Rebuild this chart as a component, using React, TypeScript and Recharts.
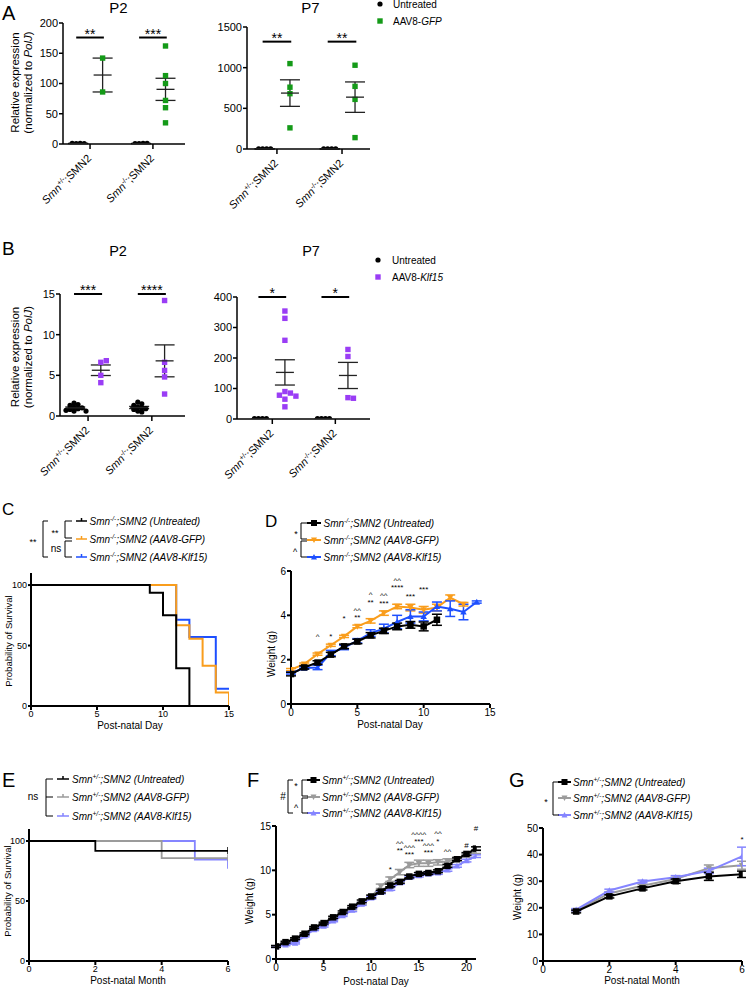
import React from 'react';
import {
  ScatterChart, Scatter, LineChart, Line, XAxis, YAxis, ErrorBar, ReferenceLine, LabelList,
} from 'recharts';

const FONT = '"Liberation Sans", Arial, Helvetica, sans-serif';
const GREEN = '#149a18';
const PURPLE = '#9a3df5';
const ORANGE = '#f99d1c';
const BLUE = '#1d4fff';
const GREY = '#9b9b9b';
const LILAC = '#8585ff';

// ---- A: GFP expression (relative to PolJ) ----
const genotypes = ['+/-', '-/-'];
const aP2Untreated = [[0.6, 0.9, 1.2, 0.8], [0.7, 1.1, 0.5, 0.9]];
const aP2Gfp = [[142, 86], [162, 113, 100, 72, 60, 35]];
const aP7Untreated = [[2, 3, 1, 2], [1, 2, 3, 2]];
const aP7Gfp = [[1050, 760, 680, 260], [1030, 770, 610, 140]];

// ---- B: Klf15 expression ----
const bP2Untreated = [[1.6, 1.4, 1.3, 1.1, 1.0, 0.9, 0.8, 0.7, 0.6, 0.6], [1.7, 1.5, 1.3, 1.1, 1.0, 0.9, 0.8, 0.6, 0.5]];
const bP2Klf = [[6.6, 6.8, 5.0, 4.1], [14.2, 6.6, 5.6, 4.8, 2.7]];
const bP7Untreated = [[1, 1, 1, 1], [1, 1, 1, 1]];
const bP7Klf = [[354, 330, 258, 90, 85, 78, 75, 65, 40], [228, 205, 70, 68]];

// ---- C: survival Smn-/- ----
const cDaysUntreated = [0, 9, 10, 11, 12];
const cSurvUntreated = [100, 93.75, 75, 31.25, 0];
const cDaysGfp = [0, 11, 12, 13, 14, 15];
const cSurvGfp = [100, 66.7, 55.6, 33.3, 11.1, 0];
const cDaysKlf = [0, 11, 12, 14, 15];
const cSurvKlf = [100, 71.4, 57.1, 14.3, 14.3];

// ---- D: weight Smn-/- ----
const dDays = [0, 1, 2, 3, 4, 5, 6, 7, 8, 9, 10, 11, 12, 13, 14];
const dUntreated = [1.35, 1.65, 1.87, 2.23, 2.6, 2.82, 3.1, 3.3, 3.5, 3.57, 3.5, 3.8];
const dUntreatedErr = [0.08, 0.07, 0.08, 0.1, 0.1, 0.1, 0.12, 0.12, 0.15, 0.15, 0.2, 0.25];
const dGfp = [1.55, 1.8, 2.25, 2.65, 3.05, 3.5, 3.75, 4.1, 4.4, 4.35, 4.25, 4.35, 4.8, 4.5];
const dGfpErr = [0.05, 0.05, 0.05, 0.05, 0.05, 0.06, 0.1, 0.1, 0.1, 0.15, 0.15, 0.15, 0.12, 0.08];
const dKlf = [1.4, 1.62, 1.65, 2.3, 2.55, 2.85, 3.2, 3.4, 3.7, 3.95, 3.95, 4.4, 4.3, 4.15, 4.6];
const dKlfErr = [0.05, 0.05, 0.1, 0.12, 0.1, 0.1, 0.15, 0.2, 0.3, 0.3, 0.2, 0.2, 0.35, 0.35, 0.05];
const dAnn = ['', '', '^', '*', '*', '^^\n**', '^\n**', '^^\n***', '^^\n****', '***', '***'];

// ---- E: survival Smn+/- ----
const eMonthsUntreated = [0, 2, 6];
const eSurvUntreated = [100, 91.7, 91.7];
const eMonthsGfp = [0, 4, 6];
const eSurvGfp = [100, 85.7, 85.7];
const eMonthsKlf = [0, 5, 6];
const eSurvKlf = [100, 84.6, 76.9];

// ---- F: weight Smn+/- (days) ----
const fDays = [0, 1, 2, 3, 4, 5, 6, 7, 8, 9, 10, 11, 12, 13, 14, 15, 16, 17, 18, 19, 20, 21];
const fUntreated = [1.42, 1.9, 2.3, 2.85, 3.56, 4.05, 4.7, 5.3, 5.9, 6.5, 7.05, 7.6, 8.3, 8.7, 9.3, 9.6, 9.7, 9.9, 10.5, 11.25, 11.85, 12.45];
const fUntreatedErr = [0.1, 0.1, 0.1, 0.1, 0.1, 0.1, 0.12, 0.12, 0.12, 0.15, 0.15, 0.15, 0.15, 0.15, 0.15, 0.15, 0.15, 0.15, 0.15, 0.15, 0.15, 0.2];
const fGfp = [1.4, 1.75, 2.2, 2.8, 3.4, 3.9, 4.5, 5.1, 5.7, 6.3, 7.0, 8.2, 9.0, 9.8, 10.6, 10.8, 10.8, 10.9, 11.0, 11.3, 11.7, 12.1];
const fGfpErr = [0.1, 0.1, 0.1, 0.1, 0.1, 0.1, 0.1, 0.1, 0.15, 0.15, 0.2, 0.25, 0.25, 0.3, 0.3, 0.35, 0.35, 0.3, 0.3, 0.2, 0.2, 0.2];
const fKlf = [1.4, 1.6, 1.8, 2.6, 3.3, 3.7, 4.3, 4.9, 5.5, 6.2, 6.9, 7.5, 7.9, 8.6, 9.2, 9.4, 9.6, 9.7, 10.05, 10.5, 11.1, 11.6];
const fKlfErr = [0.1, 0.1, 0.1, 0.1, 0.1, 0.1, 0.1, 0.1, 0.15, 0.15, 0.15, 0.15, 0.15, 0.15, 0.15, 0.15, 0.15, 0.15, 0.15, 0.15, 0.15, 0.15];
const fAnn = ['', '', '', '', '', '', '', '', '', '', '', '', '*', '^^\n**', '^^^\n***', '^^^^\n***', '^^^\n***', '^^\n*', '^^', '', '#', '#'];

// ---- G: weight Smn+/- (months) ----
const gMonths = [1, 2, 3, 4, 5, 6];
const gUntreated = [18.6, 24.3, 27.3, 30.0, 31.8, 32.6];
const gUntreatedErr = [0.5, 0.6, 0.6, 0.8, 1.5, 1.2];
const gGfp = [19.0, 25.4, 28.3, 30.8, 34.9, 36.0];
const gGfpErr = [0.4, 0.5, 0.5, 0.6, 1.2, 1.5];
const gKlf = [19.3, 26.5, 29.9, 31.5, 33.9, 39.3];
const gKlfErr = [0.4, 0.5, 0.5, 0.6, 1.0, 3.5];
const gAnn = ['', '', '', '', '', '*'];

const legendTails = ['(Untreated)', '(AAV8-GFP)', '(AAV8-Klf15)'];

type Rect = { l: number; t: number; r: number; b: number };
type Pad = { L: number; T: number; R: number; B: number };

function frame(rect: Rect, pad: Pad) {
  return {
    style: { position: 'absolute' as const, left: rect.l - pad.L, top: rect.t - pad.T },
    width: rect.r - rect.l + pad.L + pad.R,
    height: rect.b - rect.t + pad.T + pad.B,
    margin: { top: pad.T, right: pad.R, bottom: 0, left: 0 },
  };
}

function stats(v: number[]) {
  const m = v.reduce((s, x) => s + x, 0) / v.length;
  const sd = Math.sqrt(v.reduce((s, x) => s + (x - m) ** 2, 0) / (v.length - 1));
  return { y: m, err: sd / Math.sqrt(v.length) };
}

// simple beeswarm: push overlapping points sideways (gap in px)
function swarm(values: number[], base: number, kx: number, ky: number, gap: number) {
  const placed: { dx: number; py: number }[] = [];
  return values.map((v) => {
    const py = v * ky;
    for (let n = 0; n < 40; n++) {
      const dx = n === 0 ? 0 : (n % 2 ? 1 : -1) * Math.ceil(n / 2) * gap;
      if (!placed.some((p) => Math.abs(p.dx - dx) < gap * 0.99 && Math.abs(p.py - py) < gap)) {
        placed.push({ dx, py });
        return { x: base + dx / kx, y: v };
      }
    }
    return { x: base, y: v };
  });
}

const Dot = (p: any) => <circle cx={p.cx} cy={p.cy} r={2.6} fill="#000" />;
const squareOf = (color: string) => (p: any) => <rect x={p.cx - 2.7} y={p.cy - 2.7} width={5.4} height={5.4} fill={color} />;
const MeanLine = (p: any) => <line x1={p.cx - 9} x2={p.cx + 9} y1={p.cy} y2={p.cy} stroke="#222" strokeWidth={1.3} />;

function GenoTick(props: any) {
  const { x, y, payload } = props;
  const g = genotypes[Math.round(payload.value) - 1];
  return (
    <g transform={`translate(${x + 2},${y + 8}) rotate(-45)`}>
      <text textAnchor="end" fontSize={11} fill="#000">
        <tspan fontStyle="italic">Smn</tspan>
        <tspan fontSize={7} dy={-4}>{g}</tspan>
        <tspan dy={4}>;SMN2</tspan>
      </text>
    </g>
  );
}

function ExpressionPanel({ rect, xDomain, yMax, yTicks, untreated, treated, color, sigY, sigs }: {
  rect: Rect; xDomain: [number, number]; yMax: number; yTicks: number[];
  untreated: number[][]; treated: number[][]; color: string; sigY: number; sigs: string[];
}) {
  const pad = { L: 34, T: 22, R: 6, B: 66 };
  const f = frame(rect, pad);
  const kx = (rect.r - rect.l) / (xDomain[1] - xDomain[0]);
  const ky = (rect.b - rect.t) / yMax;
  const ctrl = untreated.map((v, g) => swarm(v, g + 1 - 0.22, kx, ky, 4));
  const trt = treated.flatMap((v, g) => swarm(v, g + 1 + 0.2, kx, ky, 5.5));
  const means = [
    ...untreated.map((v, g) => ({ x: ctrl[g].reduce((s, p) => s + p.x, 0) / ctrl[g].length, ...stats(v) })),
    ...treated.map((v, g) => ({ x: g + 1 + 0.2, ...stats(v) })),
  ];
  return (
    <div style={f.style}>
      <ScatterChart width={f.width} height={f.height} margin={f.margin}>
        <XAxis type="number" dataKey="x" domain={xDomain} ticks={[1, 2]} interval={0} allowDataOverflow
          height={pad.B} tick={<GenoTick />} tickSize={5}
          axisLine={{ stroke: '#000', strokeWidth: 1.5 }} tickLine={{ stroke: '#000', strokeWidth: 1.5 }} />
        <YAxis type="number" dataKey="y" domain={[0, yMax]} ticks={yTicks} interval={0} allowDataOverflow
          width={pad.L} tick={{ fontSize: 11, fill: '#000' }} tickSize={4} tickMargin={1}
          axisLine={{ stroke: '#000', strokeWidth: 1.5 }} tickLine={{ stroke: '#000', strokeWidth: 1.5 }} />
        {sigs.map((s, g) => (
          <ReferenceLine key={g} segment={[{ x: g + 1 - 0.22, y: sigY }, { x: g + 1 + 0.22, y: sigY }]}
            stroke="#000" strokeWidth={2} ifOverflow="visible"
            label={{ value: s, position: 'top', offset: -1, fontSize: 14, fill: '#000' }} />
        ))}
        <Scatter data={ctrl.flat()} shape={Dot} isAnimationActive={false} />
        <Scatter data={trt} shape={squareOf(color)} isAnimationActive={false} />
        <Scatter data={means} shape={MeanLine} isAnimationActive={false}>
          <ErrorBar dataKey="err" direction="y" width={10} stroke="#222" strokeWidth={1.3} />
        </Scatter>
      </ScatterChart>
    </div>
  );
}

function SurvivalPanel({ rect, xMax, xTicks, series, strokeW }: {
  rect: Rect; xMax: number; xTicks: number[]; strokeW: number;
  series: { xs: number[]; ys: number[]; color: string; censor?: boolean }[];
}) {
  const pad = { L: 28, T: 6, R: 8, B: 20 };
  const f = frame(rect, pad);
  return (
    <div style={f.style}>
      <LineChart width={f.width} height={f.height} margin={f.margin}>
        <XAxis type="number" dataKey="x" domain={[0, xMax]} ticks={xTicks} interval={0} allowDataOverflow
          height={pad.B} tick={{ fontSize: 9, fill: '#000' }} tickSize={4} tickMargin={1}
          axisLine={{ stroke: '#000', strokeWidth: 2 }} tickLine={{ stroke: '#000', strokeWidth: 2 }} />
        <YAxis type="number" domain={[0, 110]} ticks={[0, 50, 100]} interval={0} allowDataOverflow
          width={pad.L} tick={{ fontSize: 9, fill: '#000' }} tickSize={3} tickMargin={1}
          axisLine={{ stroke: '#000', strokeWidth: 2 }} tickLine={{ stroke: '#000', strokeWidth: 2 }} />
        {series.map((s, k) => {
          const last = s.xs.length - 1;
          return (
            <Line key={k} data={s.xs.map((x, i) => ({ x, y: s.ys[i] }))} dataKey="y" type="stepAfter"
              stroke={s.color} strokeWidth={strokeW} isAnimationActive={false} activeDot={false}
              dot={s.censor ? (p: any) => (p.index === last
                ? <line key={p.index} x1={p.cx} x2={p.cx} y1={p.cy - 4} y2={p.cy + 3} stroke={s.color} strokeWidth={1.5} />
                : <g key={p.index} />) : false} />
          );
        })}
      </LineChart>
    </div>
  );
}

function marker(kind: string, color: string, cx: number, cy: number, size: number, key?: any) {
  const s = size / 2;
  if (kind === 'square') return <rect key={key} x={cx - s} y={cy - s} width={size} height={size} fill={color} />;
  if (kind === 'down') return <path key={key} d={`M${cx - s},${cy - s * 0.8}L${cx + s},${cy - s * 0.8}L${cx},${cy + s}Z`} fill={color} />;
  return <path key={key} d={`M${cx - s},${cy + s * 0.8}L${cx + s},${cy + s * 0.8}L${cx},${cy - s}Z`} fill={color} />;
}

// significance marks stacked above a time point, one text element per point
function Ann(props: any) {
  const vb = props.viewBox || {};
  const x = props.x ?? vb.x;
  const y = props.y ?? vb.y;
  if (!props.value || x == null || y == null) return null;
  const lines = String(props.value).split('\n');
  const step = 7.5;
  const y0 = y - 5 - (props.lift || 0) - (lines.length - 1) * step;
  return (
    <text x={x} y={y0} textAnchor="middle" fontSize={8} fill="#000">
      {lines.map((s, i) => <tspan key={i} x={x} dy={i === 0 ? 0 : step}>{s}</tspan>)}
    </text>
  );
}

function WeightPanel({ rect, xMax, xTicks, yMax, yTicks, xs, series, ann, hiParity = 0, lift = 0 }: {
  rect: Rect; xMax: number; xTicks: number[]; yMax: number; yTicks: number[]; xs: number[]; ann: string[];
  series: { ys: number[]; errs: number[]; color: string; marker: string }[]; hiParity?: number; lift?: number;
}) {
  const pad = { L: 28, T: 8, R: 8, B: 20 };
  const f = frame(rect, pad);
  const annData = xs.map((x, i) => ({
    x,
    y: Math.max(...series.filter((s) => s.ys[i] != null).map((s) => s.ys[i] + s.errs[i])),
    ann: ann[i] || '',
  }));
  return (
    <div style={f.style}>
      <LineChart width={f.width} height={f.height} margin={f.margin}>
        <XAxis type="number" dataKey="x" domain={[0, xMax]} ticks={xTicks} interval={0} allowDataOverflow
          height={pad.B} tick={{ fontSize: 10, fill: '#000' }} tickSize={4} tickMargin={1}
          axisLine={{ stroke: '#000', strokeWidth: 2 }} tickLine={{ stroke: '#000', strokeWidth: 2 }} />
        <YAxis type="number" domain={[0, yMax]} ticks={yTicks} interval={0} allowDataOverflow
          width={pad.L} tick={{ fontSize: 10, fill: '#000' }} tickSize={4} tickMargin={1}
          axisLine={{ stroke: '#000', strokeWidth: 2 }} tickLine={{ stroke: '#000', strokeWidth: 2 }} />
        {series.map((s, k) => (
          <Line key={k} data={s.ys.map((y, i) => ({ x: xs[i], y, e: s.errs[i] }))} dataKey="y"
            stroke={s.color} strokeWidth={2} isAnimationActive={false} activeDot={false}
            dot={(p: any) => (p.cx == null ? <g key={p.index} /> : marker(s.marker, s.color, p.cx, p.cy, 6.5, p.index))}>
            <ErrorBar dataKey="e" direction="y" width={5} stroke={s.color} strokeWidth={1.5} />
          </Line>
        ))}
        <Line data={annData} dataKey="y" stroke="none" dot={false} activeDot={false} isAnimationActive={false} legendType="none">
          <LabelList dataKey="ann"
            content={(p: any) => <Ann {...p} lift={p.index != null && p.index % 2 === hiParity ? lift : 0} />} />
        </Line>
      </LineChart>
    </div>
  );
}

// ---- overlay: panel letters, titles, legends, brackets, axis titles ----
function GenoText({ x, y, geno, tail }: { x: number; y: number; geno: string; tail: string }) {
  return (
    <text x={x} y={y} fontSize={10} fontStyle="italic" fill="#000">
      Smn<tspan fontSize={6.5} dy={-3.5}>{geno}</tspan><tspan dy={3.5}>;SMN2 {tail}</tspan>
    </text>
  );
}

function Bracket({ x, y1, y2, w, mid }: { x: number; y1: number; y2: number; w: number; mid?: number }) {
  return (
    <g stroke="#000" strokeWidth={1} fill="none">
      <path d={`M${x + w},${y1}H${x}V${y2}H${x + w}`} />
      {mid != null && <path d={`M${x},${mid}H${x + w}`} />}
    </g>
  );
}

function VText({ x, y, size, children }: { x: number; y: number; size: number; children: React.ReactNode }) {
  return <text transform={`translate(${x},${y}) rotate(-90)`} textAnchor="middle" fontSize={size} fill="#000">{children}</text>;
}

function LegendRows({ rows, x1, x2, textX, geno, colors, kinds }: {
  rows: number[]; x1: number; x2: number; textX: number; geno: string; colors: string[]; kinds?: string[];
}) {
  const mid = (x1 + x2) / 2;
  return (
    <g>
      {rows.map((y, i) => (
        <g key={i}>
          <line x1={x1} x2={x2} y1={y} y2={y} stroke={colors[i]} strokeWidth={kinds ? 2 : 1.5} />
          {kinds ? marker(kinds[i], colors[i], mid, y, 6) : <line x1={mid} x2={mid} y1={y - 3} y2={y} stroke={colors[i]} strokeWidth={1.5} />}
          <GenoText x={textX} y={y + 3.5} geno={geno} tail={legendTails[i]} />
        </g>
      ))}
    </g>
  );
}

function Overlay() {
  const wk = ['square', 'down', 'up'];
  return (
    <svg width={746} height={989} style={{ position: 'absolute', left: 0, top: 0, pointerEvents: 'none' }}>
      <g fill="#000">
        <text x={2} y={19.5} fontSize={20}>A</text>
        <text x={2} y={255} fontSize={19}>B</text>
        <text x={2} y={515} fontSize={17}>C</text>
        <text x={265} y={527} fontSize={17}>D</text>
        <text x={2} y={787} fontSize={20}>E</text>
        <text x={247} y={787} fontSize={20}>F</text>
        <text x={509} y={787} fontSize={20}>G</text>

        <text x={118.5} y={13.3} fontSize={15} textAnchor="middle">P2</text>
        <text x={310.5} y={13.3} fontSize={15} textAnchor="middle">P7</text>
        <text x={118} y={255.5} fontSize={14.5} textAnchor="middle">P2</text>
        <text x={311} y={255.5} fontSize={14.5} textAnchor="middle">P7</text>

        {/* A / B legends */}
        <circle cx={380} cy={4} r={2.6} />
        <text x={393} y={7.7} fontSize={10}>Untreated</text>
        <rect x={377.3} y={18.3} width={5.4} height={5.4} fill={GREEN} />
        <text x={393} y={24.5} fontSize={10}>AAV8-<tspan fontStyle="italic">GFP</tspan></text>
        <circle cx={378} cy={260} r={2.6} />
        <text x={392} y={263.7} fontSize={10}>Untreated</text>
        <rect x={375.3} y={274.3} width={5.4} height={5.4} fill={PURPLE} />
        <text x={392} y={280.5} fontSize={10}>AAV8-<tspan fontStyle="italic">Klf15</tspan></text>

        {/* A / B y titles */}
        <VText x={19} y={82.5} size={11.5}>Relative expression</VText>
        <VText x={31.5} y={82.5} size={11.5}>(normalized to <tspan fontStyle="italic">PolJ</tspan>)</VText>
        <VText x={19} y={357} size={11.5}>Relative expression</VText>
        <VText x={31.5} y={357} size={11.5}>(normalized to <tspan fontStyle="italic">PolJ</tspan>)</VText>

        {/* C */}
        <LegendRows rows={[521, 539, 557]} x1={76} x2={87} textX={89.5} geno="-/-" colors={['#000', ORANGE, BLUE]} />
        <Bracket x={65} y1={521} y2={538} w={7} />
        <Bracket x={65} y1={541} y2={557} w={7} />
        <Bracket x={43} y1={521} y2={557} w={5} />
        <text x={55} y={536} fontSize={9} textAnchor="middle">**</text>
        <text x={56} y={552} fontSize={10} textAnchor="middle">ns</text>
        <text x={33} y={545} fontSize={9} textAnchor="middle">**</text>
        <VText x={11.5} y={641} size={9.5}>Probability of Survival</VText>
        <text x={130} y={728.5} fontSize={10} textAnchor="middle">Post-natal Day</text>

        {/* D */}
        <LegendRows rows={[523, 540, 557]} x1={307} x2={321} textX={323.5} geno="-/-" colors={['#000', ORANGE, BLUE]} kinds={wk} />
        <Bracket x={301} y1={523} y2={539} w={6} />
        <Bracket x={301} y1={541} y2={557} w={6} />
        <text x={296} y={537} fontSize={9} textAnchor="middle">*</text>
        <text x={295} y={555} fontSize={9} textAnchor="middle">^</text>
        <VText x={274.5} y={654} size={10}>Weight (g)</VText>
        <text x={390} y={728} fontSize={10} textAnchor="middle">Post-natal Day</text>

        {/* E */}
        <LegendRows rows={[779, 797, 816]} x1={57} x2={69} textX={72} geno="+/-" colors={['#000', GREY, LILAC]} />
        <Bracket x={46} y1={779} y2={816} w={7} mid={797} />
        <text x={33} y={800} fontSize={10} textAnchor="middle">ns</text>
        <VText x={10.5} y={891} size={9.5}>Probability of Survival</VText>
        <text x={128} y={983.5} fontSize={10} textAnchor="middle">Post-natal Month</text>

        {/* F */}
        <LegendRows rows={[780, 797, 813]} x1={307} x2={320} textX={322} geno="+/-" colors={['#000', GREY, LILAC]} kinds={wk} />
        <Bracket x={302} y1={780} y2={796} w={6} />
        <Bracket x={302} y1={798} y2={813} w={6} />
        <Bracket x={288} y1={780} y2={813} w={5} />
        <text x={296} y={789} fontSize={9} textAnchor="middle">*</text>
        <text x={296} y={811} fontSize={9} textAnchor="middle">^</text>
        <text x={283} y={799.5} fontSize={10} textAnchor="middle">#</text>
        <VText x={253} y={901} size={10}>Weight (g)</VText>
        <text x={376} y={984.5} fontSize={10} textAnchor="middle">Post-natal Day</text>

        {/* G */}
        <LegendRows rows={[782, 798, 815]} x1={558} x2={571} textX={573} geno="+/-" colors={['#000', GREY, LILAC]} kinds={wk} />
        <Bracket x={553} y1={782} y2={815} w={6} />
        <text x={546} y={805} fontSize={9} textAnchor="middle">*</text>
        <VText x={520.5} y={897} size={10}>Weight (g)</VText>
        <text x={642} y={983.5} fontSize={10} textAnchor="middle">Post-natal Month</text>
      </g>
    </svg>
  );
}

export default function App() {
  return (
    <div style={{ position: 'absolute', left: 0, top: 0, width: 746, height: 989, overflow: 'hidden', background: '#fff', fontFamily: FONT, color: '#000' }}>
      <ExpressionPanel rect={{ l: 63, t: 23, r: 185, b: 144 }} xDomain={[0.57, 2.51]} yMax={200} yTicks={[0, 50, 100, 150, 200]}
        untreated={aP2Untreated} treated={aP2Gfp} color={GREEN} sigY={176} sigs={['**', '***']} />
      <ExpressionPanel rect={{ l: 247, t: 27, r: 370, b: 149 }} xDomain={[0.54, 2.43]} yMax={1500} yTicks={[0, 500, 1000, 1500]}
        untreated={aP7Untreated} treated={aP7Gfp} color={GREEN} sigY={1320} sigs={['**', '**']} />
      <ExpressionPanel rect={{ l: 60, t: 294, r: 185, b: 416 }} xDomain={[0.56, 2.52]} yMax={15} yTicks={[0, 5, 10, 15]}
        untreated={bP2Untreated} treated={bP2Klf} color={PURPLE} sigY={15} sigs={['***', '****']} />
      <ExpressionPanel rect={{ l: 237, t: 297, r: 370, b: 419 }} xDomain={[0.44, 2.55]} yMax={400} yTicks={[0, 100, 200, 300, 400]}
        untreated={bP7Untreated} treated={bP7Klf} color={PURPLE} sigY={400} sigs={['*', '*']} />

      <SurvivalPanel rect={{ l: 31, t: 573, r: 229, b: 706 }} xMax={15} xTicks={[0, 5, 10, 15]} strokeW={2} series={[
        { xs: cDaysKlf, ys: cSurvKlf, color: BLUE },
        { xs: cDaysGfp, ys: cSurvGfp, color: ORANGE },
        { xs: cDaysUntreated, ys: cSurvUntreated, color: '#000' },
      ]} />
      <WeightPanel rect={{ l: 291, t: 571, r: 490, b: 704 }} xMax={15} xTicks={[0, 5, 10, 15]} yMax={6} yTicks={[0, 2, 4, 6]}
        xs={dDays} ann={dAnn} hiParity={0} lift={9} series={[
          { ys: dGfp, errs: dGfpErr, color: ORANGE, marker: 'down' },
          { ys: dKlf, errs: dKlfErr, color: BLUE, marker: 'up' },
          { ys: dUntreated, errs: dUntreatedErr, color: '#000', marker: 'square' },
        ]} />

      <SurvivalPanel rect={{ l: 29, t: 829, r: 228, b: 961 }} xMax={6} xTicks={[0, 2, 4, 6]} strokeW={1.8} series={[
        { xs: eMonthsKlf, ys: eSurvKlf, color: LILAC },
        { xs: eMonthsGfp, ys: eSurvGfp, color: GREY, censor: true },
        { xs: eMonthsUntreated, ys: eSurvUntreated, color: '#000', censor: true },
      ]} />
      <WeightPanel rect={{ l: 276, t: 826, r: 476, b: 959 }} xMax={21} xTicks={[0, 5, 10, 15, 20]} yMax={15} yTicks={[0, 5, 10, 15]}
        xs={fDays} ann={fAnn} hiParity={1} lift={11} series={[
          { ys: fGfp, errs: fGfpErr, color: GREY, marker: 'down' },
          { ys: fKlf, errs: fKlfErr, color: LILAC, marker: 'up' },
          { ys: fUntreated, errs: fUntreatedErr, color: '#000', marker: 'square' },
        ]} />
      <WeightPanel rect={{ l: 543, t: 828, r: 742, b: 961 }} xMax={6} xTicks={[0, 2, 4, 6]} yMax={50} yTicks={[0, 10, 20, 30, 40, 50]}
        xs={gMonths} ann={gAnn} series={[
          { ys: gGfp, errs: gGfpErr, color: GREY, marker: 'down' },
          { ys: gKlf, errs: gKlfErr, color: LILAC, marker: 'up' },
          { ys: gUntreated, errs: gUntreatedErr, color: '#000', marker: 'square' },
        ]} />

      <Overlay />
    </div>
  );
}
